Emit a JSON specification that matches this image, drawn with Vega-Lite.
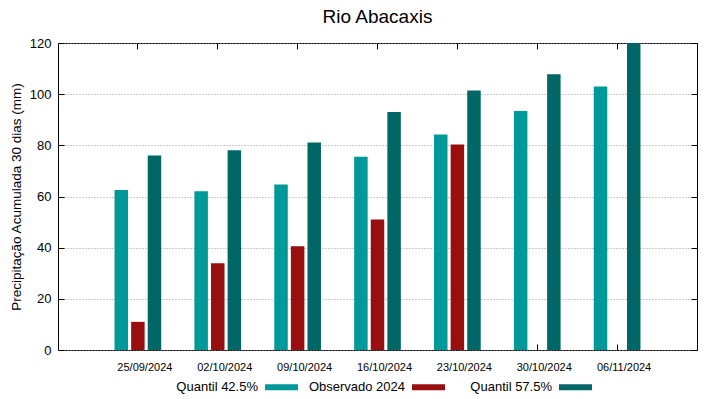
{
  "$schema": "https://vega.github.io/schema/vega-lite/v6.json",
  "width": 639,
  "height": 307,
  "autosize": "none",
  "padding": {"left": 58, "top": 43, "right": 22, "bottom": 49},
  "background": "white",
  "title": {"text": "Rio Abacaxis", "fontSize": 19, "font": "Liberation Sans", "fontWeight": "normal", "color": "black", "anchor": "middle", "offset": 10},
  "config": {
    "font": "Liberation Sans",
    "view": {"stroke": "black", "strokeWidth": 1}
  },
  "data": {"values": [
    {"date": "25/09/2024", "serie": "Quantil 42.5%", "valor": 62.5},
    {"date": "25/09/2024", "serie": "Observado 2024", "valor": 11.0},
    {"date": "25/09/2024", "serie": "Quantil 57.5%", "valor": 76.0},
    {"date": "02/10/2024", "serie": "Quantil 42.5%", "valor": 62.1},
    {"date": "02/10/2024", "serie": "Observado 2024", "valor": 33.9},
    {"date": "02/10/2024", "serie": "Quantil 57.5%", "valor": 78.1},
    {"date": "09/10/2024", "serie": "Quantil 42.5%", "valor": 64.7},
    {"date": "09/10/2024", "serie": "Observado 2024", "valor": 40.6},
    {"date": "09/10/2024", "serie": "Quantil 57.5%", "valor": 81.1},
    {"date": "16/10/2024", "serie": "Quantil 42.5%", "valor": 75.5},
    {"date": "16/10/2024", "serie": "Observado 2024", "valor": 51.0},
    {"date": "16/10/2024", "serie": "Quantil 57.5%", "valor": 93.0},
    {"date": "23/10/2024", "serie": "Quantil 42.5%", "valor": 84.2},
    {"date": "23/10/2024", "serie": "Observado 2024", "valor": 80.3},
    {"date": "23/10/2024", "serie": "Quantil 57.5%", "valor": 101.4},
    {"date": "30/10/2024", "serie": "Quantil 42.5%", "valor": 93.4},
    {"date": "30/10/2024", "serie": "Quantil 57.5%", "valor": 107.8},
    {"date": "06/11/2024", "serie": "Quantil 42.5%", "valor": 103.0},
    {"date": "06/11/2024", "serie": "Quantil 57.5%", "valor": 121.0}
  ]},
  "layer": [
    {
      "mark": {"type": "bar", "clip": true},
      "encoding": {
        "x": {
          "field": "date", "type": "nominal",
          "sort": ["25/09/2024", "02/10/2024", "09/10/2024", "16/10/2024", "23/10/2024", "30/10/2024", "06/11/2024"],
          "scale": {"paddingInner": 0, "paddingOuter": 0.5},
          "axis": {"title": null, "labelAngle": 0, "labelFontSize": 11, "labelColor": "black", "labelPadding": 17, "labelOffset": 7, "domain": false, "tickSize": -6, "tickColor": "black", "grid": false}
        },
        "xOffset": {
          "field": "serie", "type": "nominal",
          "sort": ["Quantil 42.5%", "Observado 2024", "Quantil 57.5%"],
          "scale": {"paddingInner": 0.1875, "paddingOuter": 1.09375}
        },
        "y": {
          "field": "valor", "type": "quantitative",
          "scale": {"domain": [0, 120], "nice": false},
          "axis": {"title": "Precipitação Acumulada 30 dias (mm)", "titleFontSize": 13.5, "titleFontWeight": "normal", "titleColor": "black", "titlePadding": 6,
                   "values": [0, 20, 40, 60, 80, 100, 120], "labelFontSize": 13, "labelColor": "black", "labelPadding": 13,
                   "domain": false, "tickSize": -6, "tickColor": "black",
                   "grid": true, "gridColor": "#999999", "gridDash": [1, 2], "gridWidth": 1}
        },
        "color": {
          "field": "serie", "type": "nominal",
          "sort": ["Quantil 42.5%", "Observado 2024", "Quantil 57.5%"],
          "scale": {"domain": ["Quantil 42.5%", "Observado 2024", "Quantil 57.5%"], "range": ["#009999", "#990e0e", "#006666"]},
          "legend": {"title": null, "orient": "none", "legendX": 207, "legendY": 327.5, "direction": "horizontal", "gridAlign": "all",
                     "symbolType": "M-1,-0.18H1V0.18H-1Z", "symbolSize": 1089, "symbolStrokeWidth": 0,
                     "labelFontSize": 13, "labelColor": "black", "labelAlign": "right", "labelOffset": -40, "columnPadding": 10}
        }
      }
    },
    {
      "mark": {"type": "bar", "opacity": 0, "clip": true},
      "encoding": {
        "x": {
          "field": "date", "type": "nominal",
          "sort": ["25/09/2024", "02/10/2024", "09/10/2024", "16/10/2024", "23/10/2024", "30/10/2024", "06/11/2024"],
          "axis": {"orient": "top", "title": null, "labels": false, "domain": false, "tickSize": -6, "tickColor": "black", "grid": false}
        },
        "y": {
          "field": "valor", "type": "quantitative", "stack": null,
          "axis": {"orient": "right", "title": null, "labels": false, "values": [0, 20, 40, 60, 80, 100, 120], "domain": false, "tickSize": -6, "tickColor": "black", "grid": false}
        }
      }
    }
  ],
  "resolve": {"axis": {"x": "independent", "y": "independent"}}
}
